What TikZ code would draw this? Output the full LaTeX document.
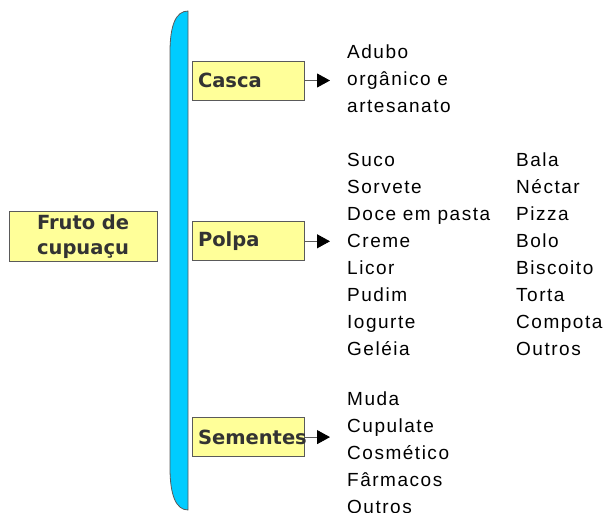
\documentclass[tikz,border=0pt]{standalone}
\usepackage{fontspec}
\setmainfont{Liberation Sans}[LetterSpace=8]
\newfontfamily\caixafont{DejaVu Sans}[BoldFont={DejaVu Sans Bold}]
\usetikzlibrary{positioning,arrows.meta}

\definecolor{amarelo}{HTML}{FFFF99}
\definecolor{azul}{HTML}{00CCFF}
\definecolor{borda}{HTML}{5A5A5A}
\definecolor{texto}{HTML}{333333}

\tikzset{
    caixa/.style={draw=borda, fill=amarelo, line width=0.8pt, text=texto,
        font=\caixafont\bfseries\fontsize{19.5}{25}\selectfont,
        text width=100pt, align=left, inner xsep=6pt, minimum height=39pt},
    lista/.style={anchor=north west, inner sep=0pt, align=left,
        font=\fontsize{19}{27}\selectfont},
    flecha/.style={-{Triangle[length=13pt,width=14pt,color=black]}, line width=0.9pt, draw=borda},
}

\begin{document}
\begin{tikzpicture}[x=1pt,y=-1pt]
        \useasboundingbox (0,0) rectangle (611,512);
        % barra azul
        \filldraw[fill=azul, draw=borda, line width=0.8pt]
            (188,11) -- (188,510) .. controls (176,510) and (170,495) .. (170,468)
            -- (170,52) .. controls (170,25) and (176,11) .. (188,11) -- cycle;
        \node[caixa, text width=136pt, align=center] (fruto) at (83,236.5) {Fruto de\\cupuaçu};
        \node[caixa] (casca) at (248,80.5) {Casca};
        \node[caixa, below=121pt of casca] (polpa) {Polpa};
        \node[caixa, below=156pt of polpa] (sementes) {Sementes};
        \node[lista] (usoscasca) at (347,45) {Adubo\\orgânico e\\artesanato};
        \node[lista] (usospolpa) at (347,153) {Suco\\Sorvete\\Doce em pasta\\Creme\\Licor\\Pudim\\Iogurte\\Geléia};
        \node[lista] (usospolpab) at (516,153) {Bala\\Néctar\\Pizza\\Bolo\\Biscoito\\Torta\\Compota\\Outros};
        \node[lista] (usossementes) at (347,392) {Muda\\Cupulate\\Cosmético\\Fârmacos\\Outros};
        \draw[flecha, shorten >=17pt] (casca.east) -- (casca.east -| usoscasca.west);
        \draw[flecha, shorten >=17pt] (polpa.east) -- (polpa.east -| usospolpa.west);
        \draw[flecha, shorten >=17pt] (sementes.east) -- (sementes.east -| usossementes.west);
    \end{tikzpicture}
\end{document}
